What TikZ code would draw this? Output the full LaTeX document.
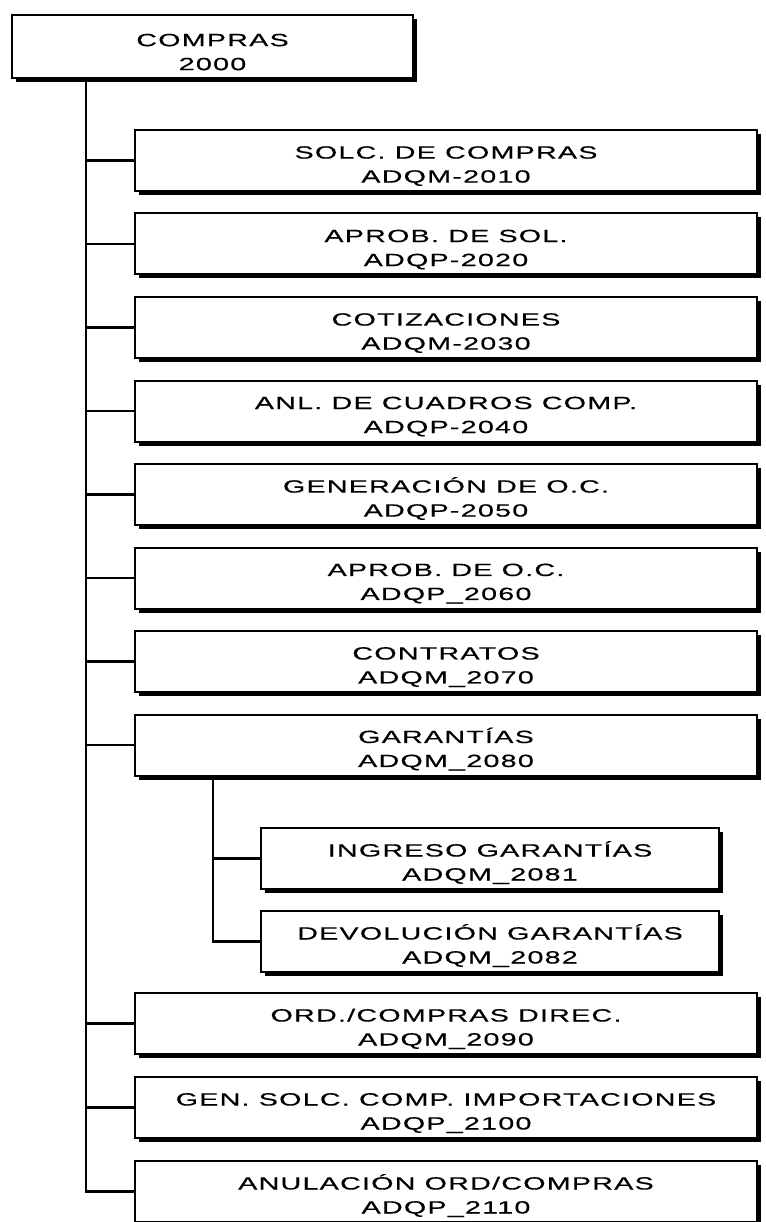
\documentclass[tikz,border=0pt]{standalone}
\usepackage{fontspec}
\newfontfamily\boxfont[FakeStretch=1.62,LetterSpace=7,FakeBold=0.4]{Liberation Sans}
\usetikzlibrary{shadows}
% two-line box label, pushed a little down
\newcommand{\twoline}[2]{\rule{0pt}{23.5pt}#1\\#2}

\begin{document}
\begin{tikzpicture}[x=1pt, y=-1pt,
    box/.style={draw, line width=2pt, fill=white, align=center, inner sep=0pt,
        minimum width=622pt, minimum height=61pt,
        font=\boxfont\fontsize{17.7}{24}\selectfont, text=black,
        drop shadow={shadow xshift=4pt, shadow yshift=-4pt, fill=black, opacity=1}},
    subbox/.style={box, minimum width=458pt},
    link/.style={line width=2.2pt, line cap=rect}]
    \useasboundingbox (0,0) rectangle (765,1222);

    % Root
    \node[box, minimum width=401pt, minimum height=63pt] (compras) at (212.5,46.5) {\twoline{COMPRAS}{2000}};
    \coordinate (trunk) at (86,80);

    % Main branches
    \node[box] (solc)   at (446,160.5) {\twoline{SOLC. DE COMPRAS}{ADQM-2010}};
    \node[box] (aprobs) at (446,244)   {\twoline{APROB. DE SOL.}{ADQP-2020}};
    \node[box] (cotiz)  at (446,327.5) {\twoline{COTIZACIONES}{ADQM-2030}};
    \node[box] (anl)    at (446,411)   {\twoline{ANL. DE CUADROS COMP.}{ADQP-2040}};
    \node[box] (genoc)  at (446,494.5) {\twoline{GENERACIÓN DE O.C.}{ADQP-2050}};
    \node[box] (aproc)  at (446,578)   {\twoline{APROB. DE O.C.}{ADQP\_2060}};
    \node[box] (contr)  at (446,661.5) {\twoline{CONTRATOS}{ADQM\_2070}};
    \node[box] (garant) at (446,745)   {\twoline{GARANTÍAS}{ADQM\_2080}};

    % Garantias sub-branches
    \node[subbox] (ingreso) at (490,858.5) {\twoline{INGRESO GARANTÍAS}{ADQM\_2081}};
    \node[subbox] (devol)   at (490,941.5) {\twoline{DEVOLUCIÓN GARANTÍAS}{ADQM\_2082}};
    \coordinate (subtrunk) at (213,778);

    \node[box] (orddir) at (446,1023.5) {\twoline{ORD./COMPRAS DIREC.}{ADQM\_2090}};
    \node[box] (gensol) at (446,1107.5) {\twoline{GEN. SOLC. COMP. IMPORTACIONES}{ADQP\_2100}};
    \node[box] (anul)   at (446,1191.5) {\twoline{ANULACIÓN ORD/COMPRAS}{ADQP\_2110}};

    % Connectors
    \draw[link] (trunk) |- (anul.west);
    \foreach \b in {solc, aprobs, cotiz, anl, genoc, aproc, contr, garant, orddir, gensol}
        \draw[link] (trunk |- \b.west) -- (\b.west);
    \draw[link] (subtrunk) |- (devol.west);
    \draw[link] (subtrunk |- ingreso.west) -- (ingreso.west);
\end{tikzpicture}
\end{document}
